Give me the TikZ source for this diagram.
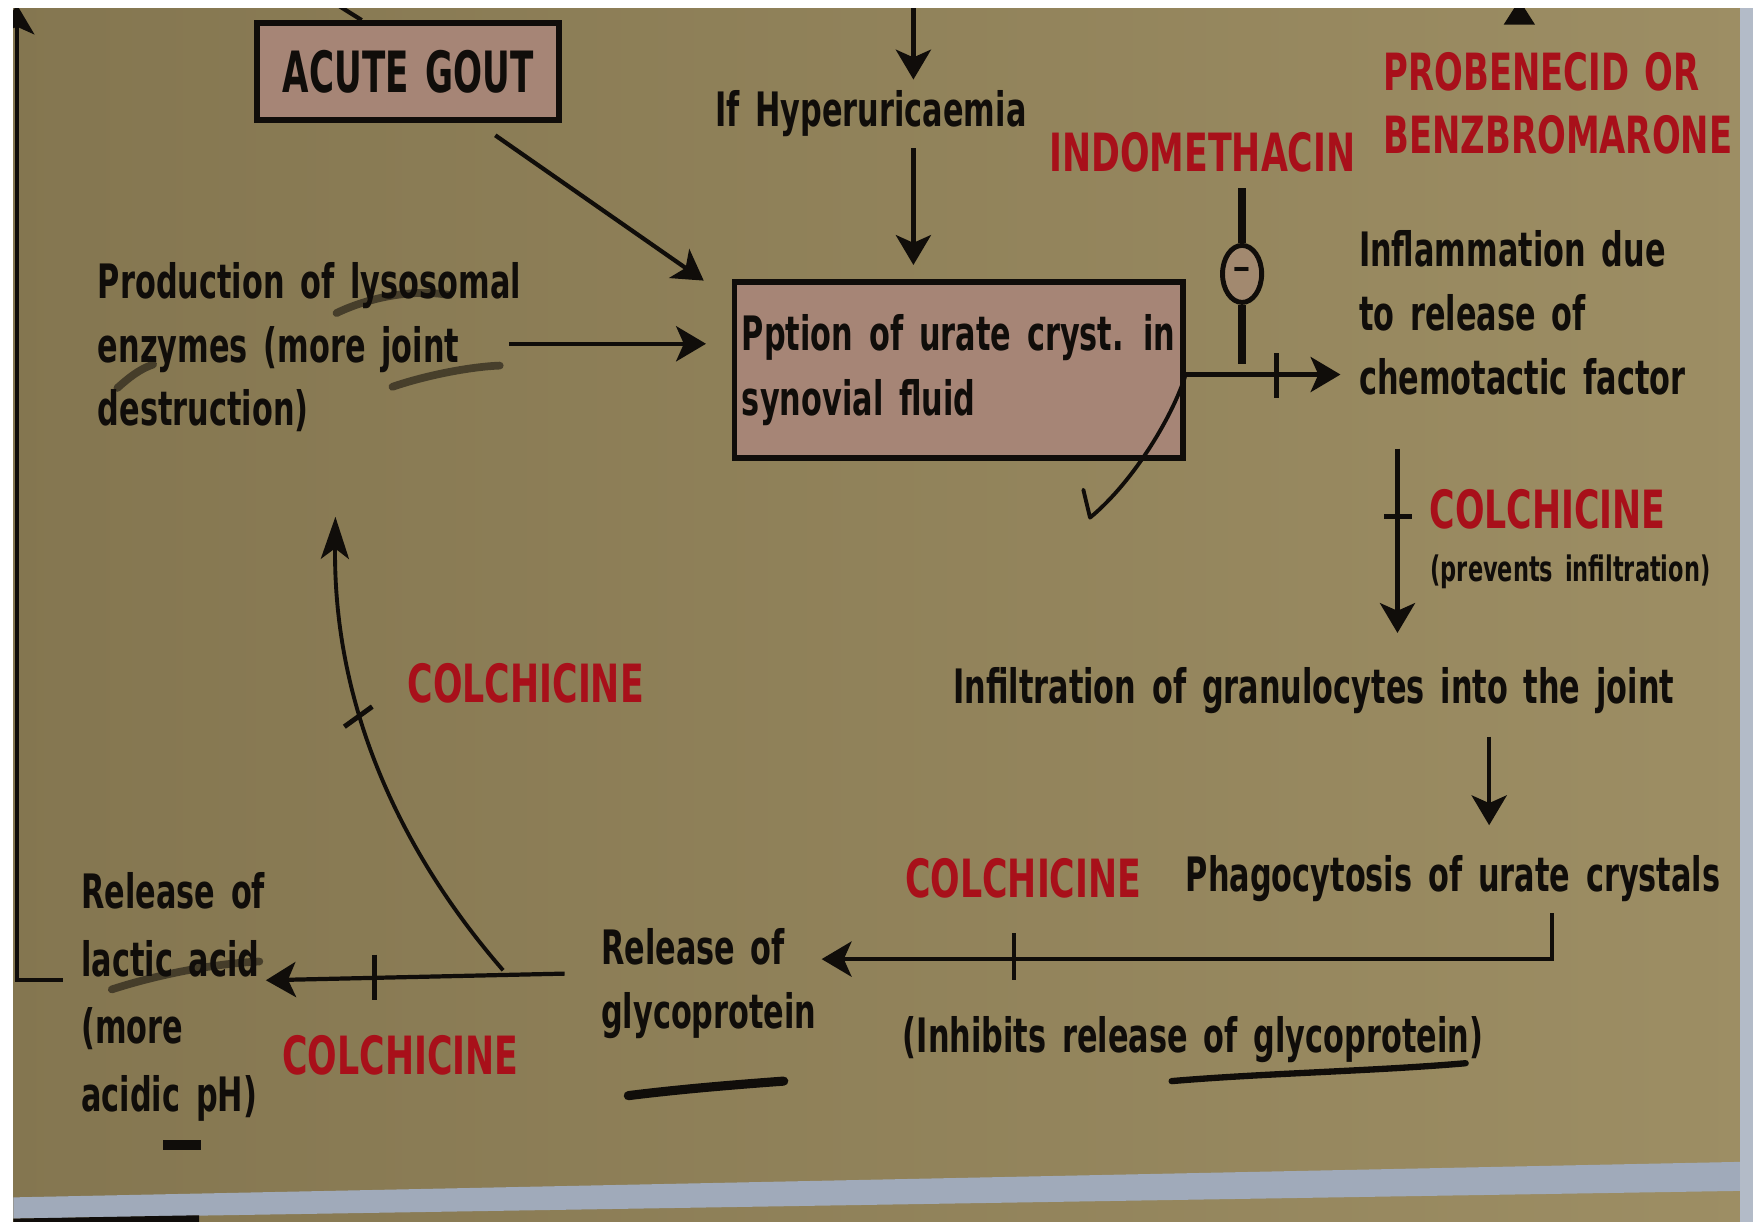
\documentclass[tikz,border=0pt]{standalone}
\usepackage{fontspec}
\usetikzlibrary{arrows.meta,calc,shapes.geometric}
\newfontfamily\tfont{DejaVu Sans}[FakeStretch=0.64,WordSpace=1.5]
\newfontfamily\rfont{DejaVu Sans}[FakeStretch=0.66,WordSpace=1.3]
\newfontfamily\gfont{DejaVu Sans}[FakeStretch=0.60,WordSpace=1.4]
\definecolor{bgl}{RGB}{132,118,80}
\definecolor{bgr}{RGB}{157,142,100}
\definecolor{boxc}{RGB}{166,133,118}
\definecolor{redc}{RGB}{168,16,26}
\definecolor{ink}{RGB}{16,13,10}
\definecolor{bandc}{RGB}{160,170,186}
\begin{document}
\begin{tikzpicture}[x=0.01118cm,y=-0.01118cm,
  txt/.style={inner sep=0pt,text=ink,align=left,font=\tfont\bfseries\fontsize{13.5}{18.2}\selectfont},
  drug/.style={inner sep=0pt,text=redc,align=left,font=\rfont\bfseries\fontsize{15}{17.8}\selectfont},
  boxn/.style={draw=ink,line width=1.6pt,fill=boxc,inner sep=0pt},
  arr/.style={draw=ink,line width=1.2pt,-{Stealth[length=8.5pt,width=10pt,inset=2.2pt]}},
  arrc/.style={draw=ink,line width=1.1pt,-{Stealth[length=12pt,width=8pt,inset=3pt]}},
  tickm/.style={draw=ink,line width=1.4pt},
  bar/.style={draw=ink,line width=2.3pt},
  pen/.style={draw=ink,line width=1.1pt,line cap=round,line join=round},
  scrib/.style={draw=ink,line width=2.2pt,line cap=round,opacity=0.55}
]
\useasboundingbox (0,0) rectangle (1568,1093);
% background
\shade[left color=bgl,right color=bgr] (0,0) rectangle (1568,1093);

% boxes
\node[boxn,minimum width={270*0.01118cm},minimum height={87*0.01118cm},
      font=\gfont\bfseries\fontsize{16.2}{18}\selectfont,text=ink] (acute) at (365,64) {ACUTE GOUT};
\node[boxn,align=left,minimum width={401*0.01118cm},minimum height={157*0.01118cm},
      font=\tfont\bfseries\fontsize{13.5}{18.4}\selectfont,text=ink] (ppt) at (857.5,331)
      {Pption of urate cryst. in\\synovial fluid};

% texts (multi-line nodes: base = baseline of last line)
\node[txt,anchor=base west] (hyper) at (639,113) {If Hyperuricaemia};
\node[drug,anchor=base west] (indo) at (938,153) {INDOMETHACIN};
\node[drug,anchor=base west,font=\rfont\bfseries\fontsize{14.6}{17.8}\selectfont] (prob) at (1237,137) {PROBENECID OR\\BENZBROMARONE};
\node[txt,anchor=base west] (prod) at (87,381) {Production of lysosomal\\enzymes (more joint\\destruction)};
\node[txt,anchor=base west] (infl) at (1215,353) {Inflammation due\\to release of\\chemotactic factor};
\node[drug,anchor=base west] (colA) at (1278,473) {COLCHICINE};
\node[txt,anchor=base west,font=\tfont\bfseries\fontsize{10}{12}\selectfont] (prev) at (1279,520) {(prevents infiltration)};
\node[txt,anchor=base west] (infil) at (852,629) {Infiltration of granulocytes into the joint};
\node[drug,anchor=base west] (colB) at (364,628) {COLCHICINE};
\node[drug,anchor=base west] (colC) at (809,803) {COLCHICINE};
\node[txt,anchor=base west] (phago) at (1060,797) {Phagocytosis of urate crystals};
\node[txt,anchor=base west] (inhib) at (807,941) {(Inhibits release of glycoprotein)};
\node[txt,anchor=base west] (relg) at (537,920) {Release of\\glycoprotein};
\node[drug,anchor=base west] (colD) at (252,961) {COLCHICINE};
\node[txt,anchor=base west,font=\tfont\bfseries\fontsize{13.5}{19.2}\selectfont] (rell) at (72,994) {Release of\\lactic acid\\(more\\acidic pH)};

% inhibitor symbol (indomethacin)
\node[ellipse,draw=ink,line width=1.4pt,fill=boxc!60!bgr,minimum width={35*0.01118cm},minimum height={51*0.01118cm},inner sep=0pt,
      font=\tfont\bfseries\fontsize{10}{10}\selectfont,text=ink] (indoc) at (1111,245) {−};
\draw[bar] (indoc.north) -- ++(0,-49);
\draw[bar] (indoc.south) -- ++(0,53);

% connectors
\draw[arr] ($(acute.south)+(78,11)$) -- ($(ppt.north west)+(-25,1)$);
\coordinate (htop) at (817,6);
\draw[arr] (htop) -- ($(hyper.north -| htop)+(0,-9)$);
\draw[arr] ($(hyper.south -| htop)+(0,10)$) -- ($(ppt.north -| htop)+(0,-13)$);
\draw[arr] ($(prod.east)+(-11,-3)$) -- ($(ppt.west |- prod.east)+(-23,-3)$);

\coordinate (a1) at ($(ppt.east)+(0,4)$);
\draw[arr] (a1) -- ($(a1 -| infl.west)+(-16,0)$);
\draw[tickm] ($(a1)+(81,-19)$) -- ($(a1)+(81,21)$);

\coordinate (g1) at ($(infl.south west)+(35,47)$);
\draw[arr] (g1) -- ($(infil.north west)+(398,-30)$);
\draw[tickm] ($(g1)+(-12,61)$) -- ($(g1)+(13,61)$);

\draw[arr] ($(infil.south west)+(480,20)$) -- ($(phago.north west)+(272,-26)$);

\coordinate (p1) at ($(phago.south west)+(328,10)$);
\draw[arr] (p1) |- ($(relg.east)+(4,-22)$);
\draw[tickm] ($(p1)+(-481,18)$) -- ($(p1)+(-481,60)$);

\coordinate (r1) at ($(relg.west)+(-32,-9)$);
\draw[arr] (r1) -- ($(rell.east)+(0,-15)$);
\draw[tickm] ($(relg.west)+(-202,-26)$) -- ($(relg.west)+(-202,15)$);

\coordinate (c0) at ($(relg.west)+(-87,-12)$);
\draw[arrc] (c0) .. controls (365,770) and (298,640) .. ($(prod.south west)+(213,75)$);
\coordinate (tk) at (320,641);
\draw[tickm] ($(tk)+(-12,9)$) -- ($(tk)+(13,-9)$);

\coordinate (lt) at (15,4);
\draw[arr] ($(rell.west)+(-16,-15)$) -| (lt);

% partial connectors at the top edge
\draw[draw=ink,line width=1.2pt] (298,2) -- ($(acute.north west)+(96,0)$);
\fill[ink] (1345,22) -- (1373,22) -- (1359,0) -- cycle;

% handwritten marks
\draw[pen] (a1) .. controls (1050,370) and (1015,430) .. (975,463) -- (969,438);
\draw[scrib] (301,280) .. controls (330,266) and (370,258) .. (402,264);
\draw[scrib] (105,347) .. controls (115,338) and (125,330) .. (137,326);
\draw[scrib] (351,346) .. controls (380,336) and (420,328) .. (447,327);
\draw[scrib] (100,885) .. controls (140,872) and (190,862) .. (232,860);
\draw[draw=ink,line width=2.6pt,line cap=round] (562,980) .. controls (610,974) and (660,970) .. (701,967);
\draw[draw=ink,line width=1.8pt,line cap=round] (1048,967) .. controls (1130,960) and (1230,958) .. (1311,951);
\draw[draw=ink,line width=3pt] (146,1024) -- (180,1024);

% photo edges
\fill[bandc] (12,1071) -- (1568,1039) -- (1568,1065) -- (12,1090) -- cycle;
\fill[ink] (12,1090) -- (178,1087) -- (178,1093) -- (12,1093) -- cycle;
\fill[bandc!80!white] (1556,0) rectangle (1568,1093);
\fill[white] (0,0) rectangle (1568,7);
\fill[white] (0,0) rectangle (12,1093);
\end{tikzpicture}
\end{document}
